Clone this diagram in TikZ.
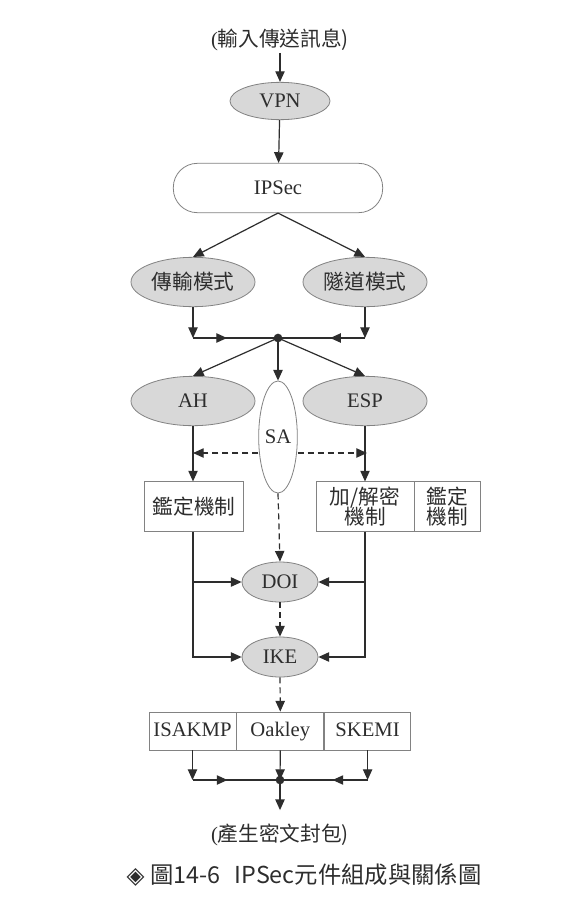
\documentclass[tikz,border=0pt]{standalone}
\usepackage{fontspec}
\setmainfont{Liberation Serif}
\newfontfamily\cjk{Noto Sans CJK TC}
\newfontfamily\symb{DejaVu Sans}
\usetikzlibrary{arrows.meta,shapes.geometric,decorations.markings}

\definecolor{ink}{RGB}{45,45,45}
\definecolor{ovalfill}{RGB}{216,216,216}
\definecolor{rim}{RGB}{130,130,130}

\tikzset{every picture/.style={line width=0.9pt}}
\tikzset{
  tri/.tip={Triangle[length=8pt,width=7pt]},
  conn/.style={draw=ink,-tri},
  dconn/.style={draw=ink,-tri,dash pattern=on 4.5pt off 3pt},
  midarrow/.style={draw=ink,decoration={markings,mark=at position 0.4 with {\arrow{Triangle[length=8pt,width=7pt]}}},postaction={decorate}},
  oval/.style={ellipse,draw=rim,line width=0.6pt,fill=ovalfill,text=ink,inner sep=0pt,font=\fontsize{15.5}{18}\selectfont},
  cell/.style={rectangle,draw=rim,line width=0.6pt,fill=white,text=ink,inner sep=0pt,align=center,font=\fontsize{15.5}{17}\selectfont},
  label/.style={text=ink,inner sep=1pt,font=\fontsize{15.5}{18}\selectfont},
  junction/.style={circle,fill=ink,inner sep=0pt,minimum size=6.5pt},
}

\begin{document}
\begin{tikzpicture}[x=0.75pt,y=0.75pt,yscale=-1,xscale=1]
\useasboundingbox[fill=white] (0,0) rectangle (578,906);

% Text Node
\node[label] (in) at (280,40) {(\cjk 輸入傳送訊息)};
% Ellipses
\node[oval,minimum width=75pt,minimum height=28pt] (vpn) at (280,101) {VPN};
\node[cell,rounded corners=18pt,minimum width=157pt,minimum height=37pt] (ipsec) at (278,188) {IPSec};
\node[oval,minimum width=93pt,minimum height=37pt] (trans) at (193,282) {\cjk 傳輸模式};
\node[oval,minimum width=93pt,minimum height=37pt] (tunnel) at (365,282) {\cjk 隧道模式};
\node[junction] (j1) at (278,338) {};
\node[oval,minimum width=93pt,minimum height=37pt] (ah) at (193,401) {AH};
\node[oval,minimum width=93pt,minimum height=37pt] (esp) at (365,401) {ESP};
\node[ellipse,draw=rim,line width=0.6pt,fill=white,text=ink,inner sep=0pt,minimum width=29pt,minimum height=84pt,font=\fontsize{15.5}{18}\selectfont] (sa) at (278,437) {SA};
% Boxes
\node[cell,minimum width=74pt,minimum height=37pt] (authah) at (194,506.5) {\cjk 鑑定機制};
\node[cell,minimum width=73.5pt,minimum height=37pt] (crypt) at (365,506.5) {\cjk 加/解密\\[-2pt]\cjk 機制};
\node[cell,minimum width=49pt,minimum height=37pt,anchor=west] (authesp) at (crypt.east) {\cjk 鑑定\\[-2pt]\cjk 機制};
\node[oval,minimum width=57pt,minimum height=30pt] (doi) at (280,582) {DOI};
\node[oval,minimum width=57pt,minimum height=30pt] (ike) at (280,657) {IKE};
\node[cell,text height=11pt,text depth=3.5pt,minimum width=65.25pt,minimum height=28.5pt] (isakmp) at (192.5,731) {ISAKMP};
\node[cell,text height=11pt,text depth=3.5pt,minimum width=65.25pt,minimum height=28.5pt,anchor=west] (oakley) at (isakmp.east) {Oakley};
\node[cell,text height=11pt,text depth=3.5pt,minimum width=64.5pt,minimum height=28.5pt,anchor=west] (skemi) at (oakley.east) {SKEMI};
\node[junction] (j2) at (280,780) {};
\node[label] (out) at (280,835) {(\cjk 產生密文封包)};
\node[text=ink,inner sep=0pt,font=\fontsize{17.5}{20}\selectfont] (caption) at (304,875) {{\symb ◈} \cjk 圖14-6\hspace{0.6em}IPSec元件組成與關係圖};

%Straight Lines
\draw[conn] (in) -- (vpn);
\draw[conn] (vpn) -- (ipsec);
\draw[conn] (ipsec.south) -- (trans.north);
\draw[conn] (ipsec.south) -- (tunnel.north);
\draw[conn] (trans) -- (trans |- j1);
\draw[conn] (tunnel) -- (tunnel |- j1);
\draw[midarrow] (trans |- j1) -- (j1.center);
\draw[midarrow] (tunnel |- j1) -- (j1.center);
\draw[conn] (j1.center) -- (ah.north);
\draw[conn] (j1.center) -- (sa.north);
\draw[conn] (j1.center) -- (esp.north);
\coordinate (dl) at (193,453);
\coordinate (dr) at (367,453);
\draw[dconn] (sa.west |- dl) -- (dl);
\draw[dconn] (sa.east |- dr) -- (dr);
\draw[conn] (ah.south) -- (ah.south |- authah.north);
\draw[conn] (esp.south) -- (crypt.north);
\coordinate (lfoot) at (authah.south -| ah);
\draw[conn] (lfoot) -- (lfoot |- ike) -- (ike.west);
\draw[conn] (lfoot |- doi) -- (doi.west);
\draw[conn] (crypt.south) -- (crypt.south |- ike) -- (ike.east);
\draw[conn] (crypt.south |- doi) -- (doi.east);
\draw[dconn] (sa.south) -- (doi.north);
\draw[dconn] (doi.south) -- (ike.north);
\draw[dconn] (ike.south) -- (oakley.north);
\draw[conn] (isakmp.south) -- (isakmp.south |- j2);
\draw[conn] (skemi.south) -- (skemi.south |- j2);
\draw[midarrow] (isakmp.south |- j2) -- (j2.center);
\draw[midarrow] (skemi.south |- j2) -- (j2.center);
\draw[conn] (oakley.south) -- (j2.center);
\draw[conn,shorten >=9pt] (j2.center) -- (out);

\end{tikzpicture}
\end{document}
